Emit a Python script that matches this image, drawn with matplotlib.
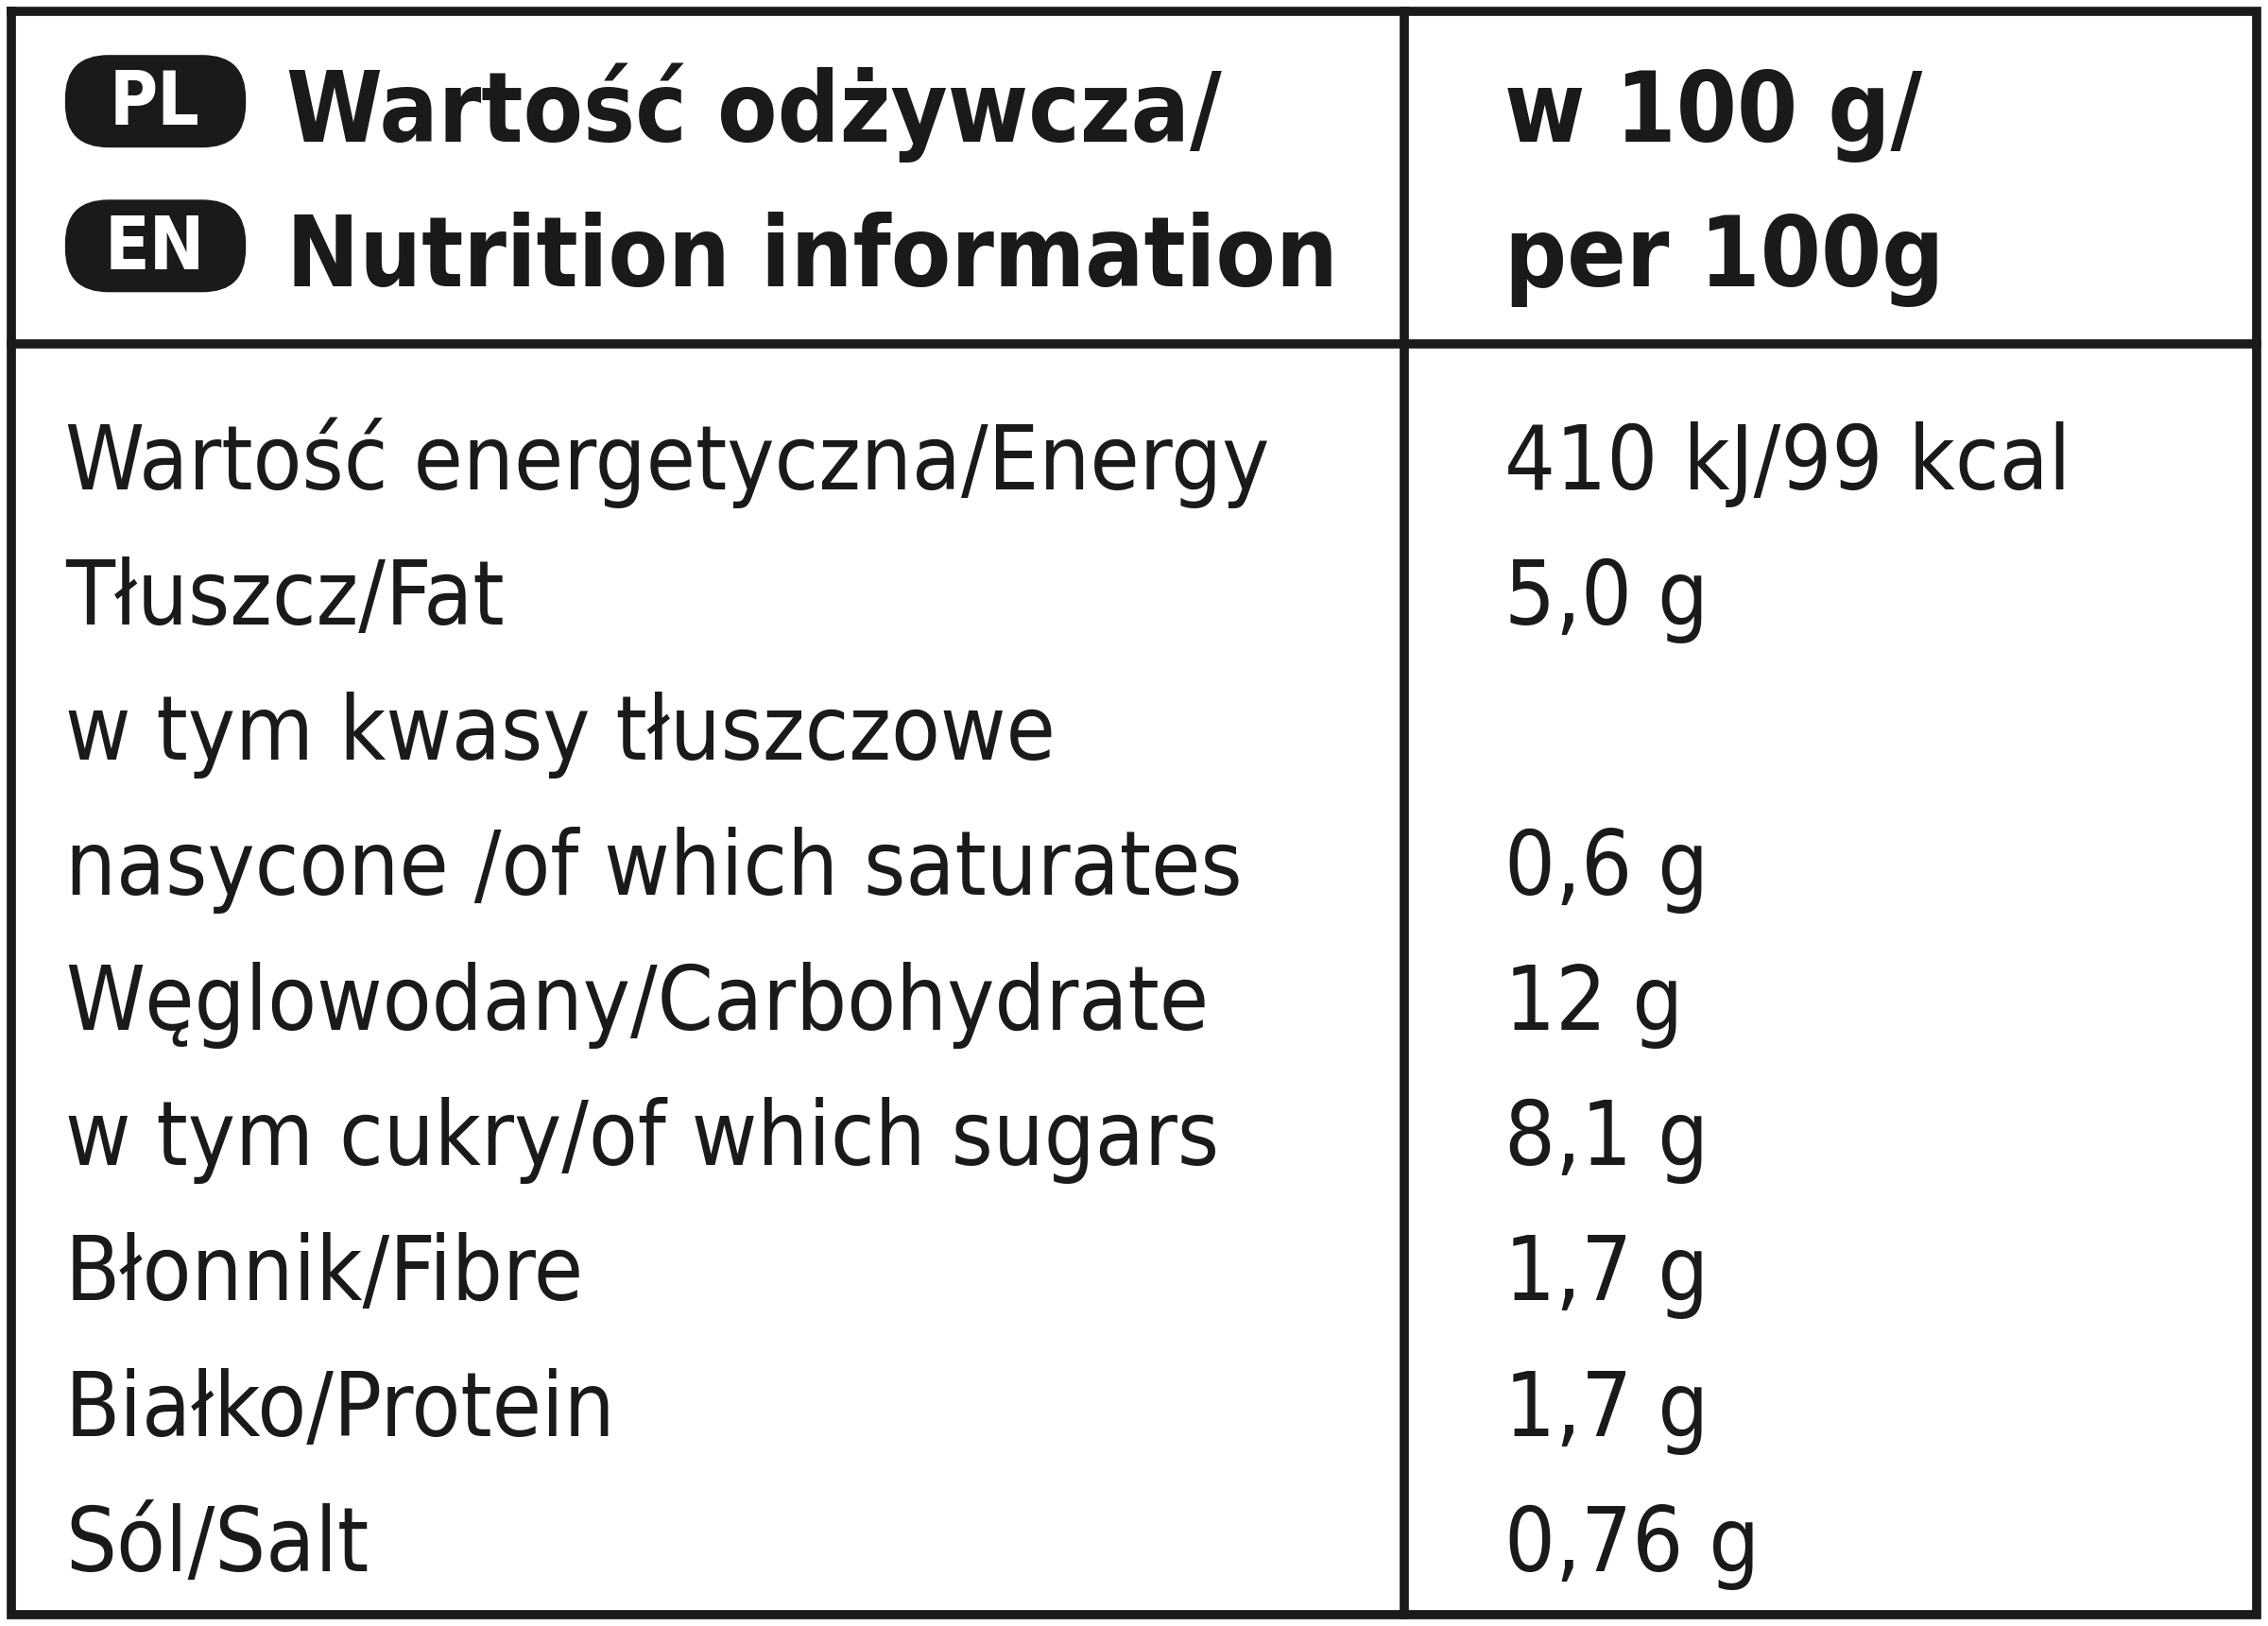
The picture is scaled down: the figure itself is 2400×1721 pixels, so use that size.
import matplotlib
matplotlib.use("Agg")
import matplotlib.pyplot as plt
from matplotlib.patches import FancyBboxPatch

badges = ["PL", "EN"]
header_left = ["Wartość odżywcza/", "Nutrition information"]
header_right = ["w 100 g/", "per 100g"]
labels = ["Wartość energetyczna/Energy", "Tłuszcz/Fat", "w tym kwasy tłuszczowe",
          "nasycone /of which saturates", "Węglowodany/Carbohydrate",
          "w tym cukry/of which sugars", "Błonnik/Fibre", "Białko/Protein", "Sól/Salt"]
values = ["410 kJ/99 kcal", "5,0 g", "", "0,6 g", "12 g", "8,1 g", "1,7 g", "1,7 g", "0,76 g"]

W, H = 1568, 1124
fig = plt.figure(figsize=(24, 17.21), dpi=100)
ax = fig.add_axes([0, 0, 1, 1])
ax.set_xlim(0, W); ax.set_ylim(H, 0); ax.axis("off")
fam = ["DejaVu Sans"]
st = "condensed"
lw = 7
ax.plot([8, 1560, 1560, 8, 8], [8, 8, 1116, 1116, 8], color="#1a1a1a", lw=lw, solid_joinstyle="miter")
ax.plot([971, 971], [8, 1116], color="#1a1a1a", lw=lw)
ax.plot([8, 1560], [238, 238], color="#1a1a1a", lw=lw)

for i, (b, t) in enumerate(zip(badges, header_left)):
    yc = 70 + i * 100
    ax.add_patch(FancyBboxPatch((45, yc - 32), 125, 64, boxstyle="round,pad=0,rounding_size=30",
                                fc="#1a1a1a", ec="none"))
    ax.text(107, yc + 2, b, color="white", fontsize=56, fontweight="bold", family=fam, stretch=st,
            ha="center", va="center")
    ax.text(198, yc + 28, t, color="#1a1a1a", fontsize=74, fontweight="bold", family=fam, stretch=st,
            ha="left", va="baseline")
for i, t in enumerate(header_right):
    ax.text(1040, 98 + i * 100, t, color="#1a1a1a", fontsize=74, fontweight="bold", family=fam, stretch=st,
            ha="left", va="baseline")

for i, (l, v) in enumerate(zip(labels, values)):
    y = 338 + i * 93.5
    ax.text(45, y, l, color="#1a1a1a", fontsize=68, family=fam, stretch=st, ha="left", va="baseline")
    ax.text(1040, y, v, color="#1a1a1a", fontsize=68, family=fam, stretch=st, ha="left", va="baseline")

fig.savefig("out.png", dpi=100, facecolor="white")
